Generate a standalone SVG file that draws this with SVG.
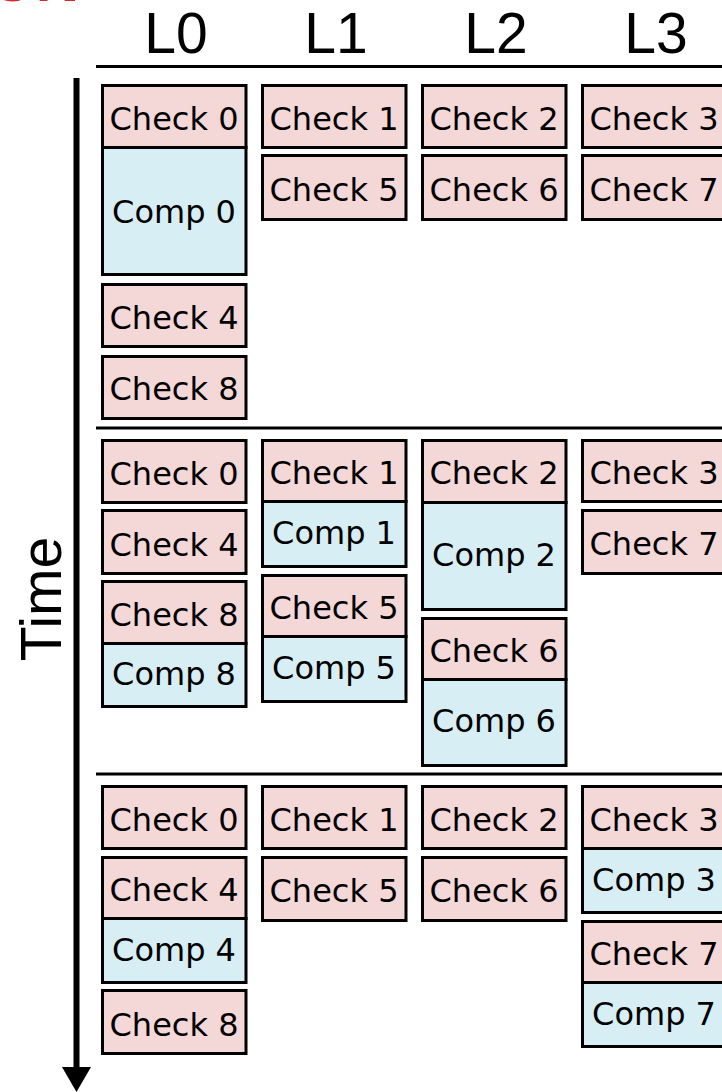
<svg xmlns="http://www.w3.org/2000/svg" width="722" height="1092" viewBox="0 0 722 1092">
<style>
.ck{fill:#f4d7d7;stroke:#000;stroke-width:3}
.cp{fill:#d7eef4;stroke:#000;stroke-width:3}
.t{font-family:"DejaVu Sans",sans-serif;font-size:32px;text-anchor:middle;fill:#000}
.h{font-family:"Liberation Sans",Arial,sans-serif;font-size:57px;text-anchor:middle;fill:#000}
.sep{stroke:#000;stroke-width:3}
</style>
<text x="-11" y="0.5" font-family="Liberation Sans,Arial,sans-serif" font-weight="bold" font-size="60" fill="#d42a2a">ON</text>
<g id="headers">
<text class="h" x="176" y="53">L0</text>
<text class="h" x="336" y="53">L1</text>
<text class="h" x="496" y="53">L2</text>
<text class="h" x="656" y="53">L3</text>
</g>
<g id="time-label"><text class="h" transform="translate(61,599) rotate(-90)" font-size="56">Time</text></g>
<g id="lines">
<line class="sep" x1="96" y1="66.5" x2="722" y2="66.5"/>
<line class="sep" x1="96" y1="428" x2="722" y2="428"/>
<line class="sep" x1="96" y1="774" x2="722" y2="774"/>
</g>
<g id="connectors">
<line x1="76.5" y1="78" x2="76.5" y2="1070" stroke="#000" stroke-width="6"/>
<path d="M62,1067 L91,1067 L76.5,1092 Z" fill="#000"/>
</g>
<!-- Section 1 -->
<g id="s1-check0"><rect class="ck" x="102.5" y="85.5" width="143.5" height="62"/><text class="t" x="174" y="130">Check 0</text></g>
<g id="s1-comp0"><rect class="cp" x="102.5" y="147.5" width="143.5" height="127"/><text class="t" x="174" y="223">Comp 0</text></g>
<g id="s1-check4"><rect class="ck" x="102.5" y="284.5" width="143.5" height="62"/><text class="t" x="174" y="329">Check 4</text></g>
<g id="s1-check8"><rect class="ck" x="102.5" y="356.5" width="143.5" height="62"/><text class="t" x="174" y="400">Check 8</text></g>
<g id="s1-check1"><rect class="ck" x="262.5" y="85.5" width="143.5" height="62"/><text class="t" x="334" y="130">Check 1</text></g>
<g id="s1-check5"><rect class="ck" x="262.5" y="155.5" width="143.5" height="64"/><text class="t" x="334" y="201">Check 5</text></g>
<g id="s1-check2"><rect class="ck" x="422.5" y="85.5" width="143.5" height="62"/><text class="t" x="494" y="130">Check 2</text></g>
<g id="s1-check6"><rect class="ck" x="422.5" y="155.5" width="143.5" height="64"/><text class="t" x="494" y="201">Check 6</text></g>
<g id="s1-check3"><rect class="ck" x="582.5" y="85.5" width="143.5" height="62"/><text class="t" x="654" y="130">Check 3</text></g>
<g id="s1-check7"><rect class="ck" x="582.5" y="155.5" width="143.5" height="64"/><text class="t" x="654" y="201">Check 7</text></g>
<!-- Section 2 -->
<g id="s2-check0"><rect class="ck" x="102.5" y="440.5" width="143.5" height="62"/><text class="t" x="174" y="485">Check 0</text></g>
<g id="s2-check4"><rect class="ck" x="102.5" y="510.5" width="143.5" height="63"/><text class="t" x="174" y="556">Check 4</text></g>
<g id="s2-check8"><rect class="ck" x="102.5" y="581.5" width="143.5" height="62"/><text class="t" x="174" y="626">Check 8</text></g>
<g id="s2-comp8"><rect class="cp" x="102.5" y="643.5" width="143.5" height="63"/><text class="t" x="174" y="685">Comp 8</text></g>
<g id="s2-check1"><rect class="ck" x="262.5" y="440.5" width="143.5" height="61"/><text class="t" x="334" y="484">Check 1</text></g>
<g id="s2-comp1"><rect class="cp" x="262.5" y="501.5" width="143.5" height="65"/><text class="t" x="334" y="544">Comp 1</text></g>
<g id="s2-check5"><rect class="ck" x="262.5" y="575.5" width="143.5" height="61"/><text class="t" x="334" y="619">Check 5</text></g>
<g id="s2-comp5"><rect class="cp" x="262.5" y="636.5" width="143.5" height="65"/><text class="t" x="334" y="679">Comp 5</text></g>
<g id="s2-check2"><rect class="ck" x="422.5" y="440.5" width="143.5" height="62"/><text class="t" x="494" y="484">Check 2</text></g>
<g id="s2-comp2"><rect class="cp" x="422.5" y="502.5" width="143.5" height="107"/><text class="t" x="494" y="566">Comp 2</text></g>
<g id="s2-check6"><rect class="ck" x="422.5" y="618.5" width="143.5" height="61"/><text class="t" x="494" y="662">Check 6</text></g>
<g id="s2-comp6"><rect class="cp" x="422.5" y="679.5" width="143.5" height="86"/><text class="t" x="494" y="732">Comp 6</text></g>
<g id="s2-check3"><rect class="ck" x="582.5" y="440.5" width="143.5" height="61"/><text class="t" x="654" y="484">Check 3</text></g>
<g id="s2-check7"><rect class="ck" x="582.5" y="510.5" width="143.5" height="63"/><text class="t" x="654" y="555">Check 7</text></g>
<!-- Section 3 -->
<g id="s3-check0"><rect class="ck" x="102.5" y="786.5" width="143.5" height="62"/><text class="t" x="174" y="831">Check 0</text></g>
<g id="s3-check4"><rect class="ck" x="102.5" y="857.5" width="143.5" height="61"/><text class="t" x="174" y="901">Check 4</text></g>
<g id="s3-comp4"><rect class="cp" x="102.5" y="918.5" width="143.5" height="64"/><text class="t" x="174" y="961">Comp 4</text></g>
<g id="s3-check8"><rect class="ck" x="102.5" y="990.5" width="143.5" height="63"/><text class="t" x="174" y="1036">Check 8</text></g>
<g id="s3-check1"><rect class="ck" x="262.5" y="786.5" width="143.5" height="62"/><text class="t" x="334" y="831">Check 1</text></g>
<g id="s3-check5"><rect class="ck" x="262.5" y="857.5" width="143.5" height="63"/><text class="t" x="334" y="902">Check 5</text></g>
<g id="s3-check2"><rect class="ck" x="422.5" y="786.5" width="143.5" height="62"/><text class="t" x="494" y="831">Check 2</text></g>
<g id="s3-check6"><rect class="ck" x="422.5" y="857.5" width="143.5" height="63"/><text class="t" x="494" y="902">Check 6</text></g>
<g id="s3-check3"><rect class="ck" x="582.5" y="786.5" width="143.5" height="62"/><text class="t" x="654" y="831">Check 3</text></g>
<g id="s3-comp3"><rect class="cp" x="582.5" y="848.5" width="143.5" height="64"/><text class="t" x="654" y="891">Comp 3</text></g>
<g id="s3-check7"><rect class="ck" x="582.5" y="921.5" width="143.5" height="61"/><text class="t" x="654" y="965">Check 7</text></g>
<g id="s3-comp7"><rect class="cp" x="582.5" y="982.5" width="143.5" height="64"/><text class="t" x="654" y="1025">Comp 7</text></g>
</svg>
